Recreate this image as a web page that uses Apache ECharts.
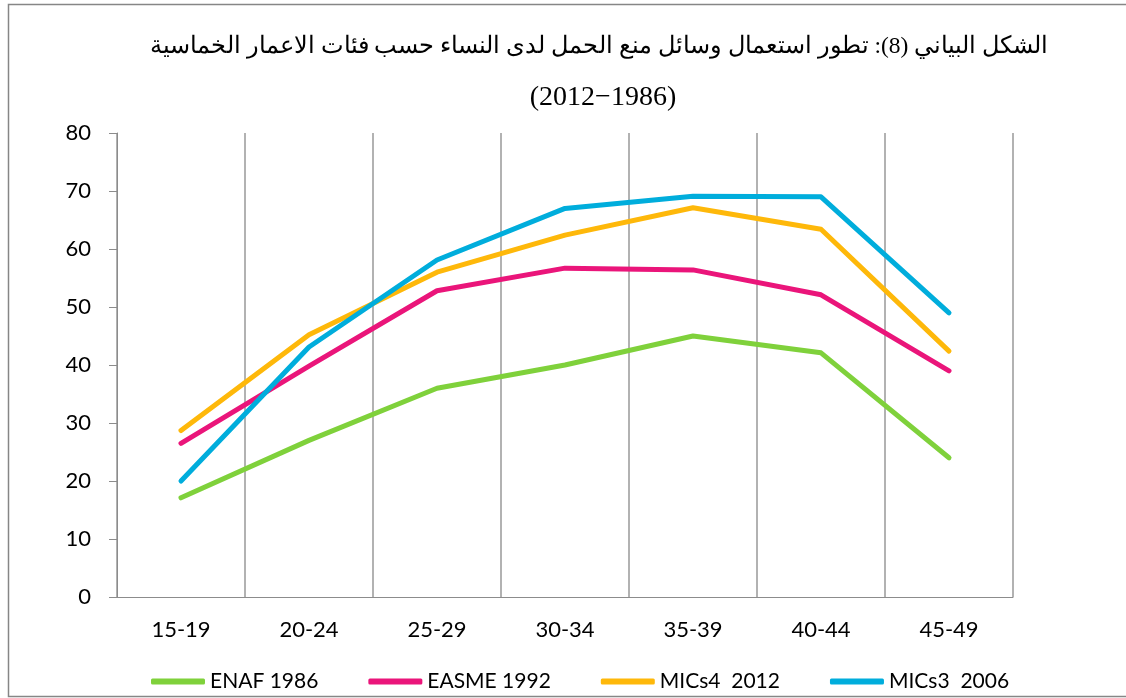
<!DOCTYPE html>
<html>
<head>
    <meta charset="utf-8">
    <title>ECharts</title>
    <script src="https://cdn.jsdelivr.net/npm/echarts@6/dist/echarts.min.js"></script>
    <style>
        html, body { margin: 0; padding: 0; background: #fff; }
    </style>
</head>
<body>
    <div id="main" style="width: 1126px;height:698px;"></div>
    <script type="text/javascript">
        // data
        var categories = ['15-19', '20-24', '25-29', '30-34', '35-39', '40-44', '45-49'];
        var enaf1986 = [17.1, 27, 36, 40, 45, 42.1, 24];
        var easme1992 = [26.5, 39.8, 52.8, 56.7, 56.4, 52.1, 39];
        var mics4_2012 = [28.7, 45.2, 56, 62.4, 67.1, 63.4, 42.4];
        var mics3_2006 = [20, 43.1, 58.1, 67, 69.1, 69, 49];
        var seriesNames = ['ENAF 1986', 'EASME 1992', 'MICs4  2012', 'MICs3  2006'];
        var colors = ['#7FD13B', '#EA157A', '#FEB80A', '#00ADDC'];

        var myChart = echarts.init(document.getElementById('main'));

        function line(name, data, color) {
            return {
                name: name,
                type: 'line',
                data: data,
                symbol: 'none',
                color: color,
                lineStyle: { width: 5, color: color, cap: 'round', join: 'round' }
            };
        }

        var labelFont = 'Lato, "Open Sans", sans-serif';

        var option = {
            backgroundColor: '#fff',
            animation: false,
            title: [
                {
                    text: 'الشكل البياني (8): تطور استعمال وسائل منع الحمل لدى النساء حسب فئات الاعمار الخماسية',
                    left: 594, top: 30, textAlign: 'center',
                    textStyle: { fontFamily: '"Liberation Serif", "DejaVu Serif", serif', fontSize: 23.5, fontWeight: 'normal', color: '#000' }
                },
                {
                    text: '(2012−1986)',
                    left: 598, top: 79, textAlign: 'center',
                    textStyle: { fontFamily: '"Liberation Serif", serif', fontSize: 28, fontWeight: 'normal', color: '#000' }
                }
            ],
            legend: {
                data: seriesNames,
                left: 146,
                top: 666,
                icon: 'roundRect',
                itemWidth: 54,
                itemHeight: 6,
                itemGap: 50,
                textStyle: { fontFamily: labelFont, fontSize: 21, color: '#000' }
            },
            grid: { left: 117, right: 113, top: 133, bottom: 101 },
            xAxis: {
                type: 'category',
                boundaryGap: true,
                data: categories,
                axisLine: { lineStyle: { color: '#8c8c8c', width: 1 } },
                axisTick: { length: 8, lineStyle: { color: '#8c8c8c' } },
                splitLine: { show: true, lineStyle: { color: '#999999', width: 1.5 } },
                axisLabel: { margin: 22, fontFamily: labelFont, fontSize: 22, color: '#000' }
            },
            yAxis: {
                type: 'value',
                min: 0, max: 80, interval: 10,
                axisLine: { show: true, lineStyle: { color: '#8c8c8c', width: 1 } },
                axisTick: { show: true, length: 8, lineStyle: { color: '#8c8c8c' } },
                splitLine: { show: false },
                axisLabel: { margin: 26, fontFamily: labelFont, fontSize: 22, color: '#000' }
            },
            graphic: [
                {
                    type: 'rect',
                    shape: { x: 8.5, y: 4.5, width: 1140, height: 692 },
                    style: { fill: 'none', stroke: '#868686', lineWidth: 1.5 },
                    silent: true
                }
            ],
            series: [
                line(seriesNames[0], enaf1986, colors[0]),
                line(seriesNames[1], easme1992, colors[1]),
                line(seriesNames[2], mics4_2012, colors[2]),
                line(seriesNames[3], mics3_2006, colors[3])
            ]
        };

        myChart.setOption(option);
    </script>
</body>
</html>
